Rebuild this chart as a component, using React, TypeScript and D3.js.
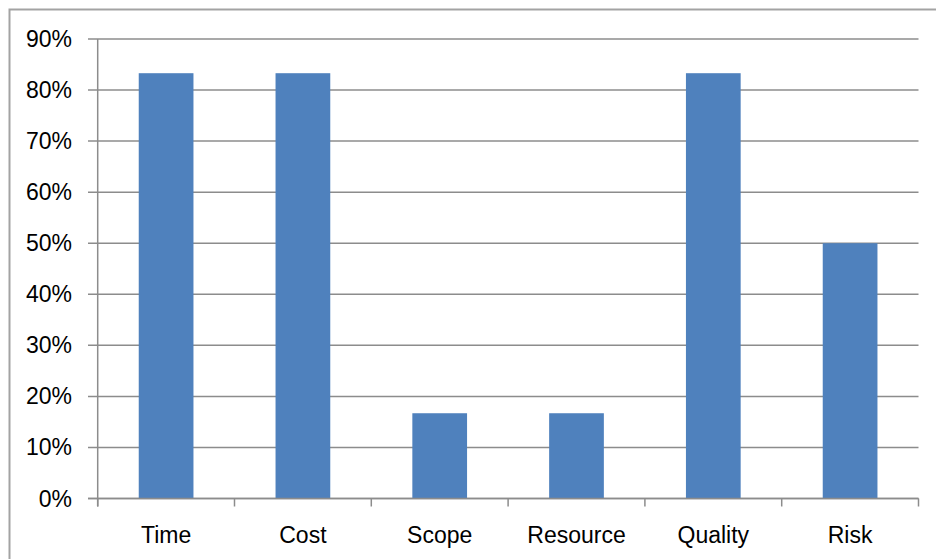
import * as d3 from "d3"

const categories = ["Time", "Cost", "Scope", "Resource", "Quality", "Risk"]
const values = [0.833, 0.833, 0.167, 0.167, 0.833, 0.5]
const yTicks = [0, 0.1, 0.2, 0.3, 0.4, 0.5, 0.6, 0.7, 0.8, 0.9]

const width = 936
const height = 559
const plot = { left: 97.7, right: 918.5, top: 39, bottom: 498.5 }
const font = "'Liberation Sans', Arial, sans-serif"
const gridColor = "#8c8c8c"

export default function App() {
  const x = d3.scaleBand<string>()
    .domain(categories)
    .range([plot.left, plot.right])
    .paddingInner(0.6)
    .paddingOuter(0.3)

  const y = d3.scaleLinear()
    .domain([0, 0.9])
    .range([plot.bottom, plot.top])

  const fmt = d3.format(".0%")
  const step = x.step()
  // category boundaries for the x-axis tick marks
  const boundaries = d3.range(categories.length + 1).map(i => plot.left + i * step)

  return (
    <svg
      width={width}
      height={height}
      style={{ position: "absolute", left: 0, top: 0, background: "#fff" }}
    >
      <rect x={9.5} y={9.5} width={width} height={height} fill="#fff" stroke="#a3a3a3" strokeWidth={2} />

      {yTicks.map(t => (
        <g key={t}>
          <line x1={88} x2={plot.right} y1={y(t)} y2={y(t)} stroke={gridColor} strokeWidth={1.5} />
          <text
            x={72}
            y={y(t) + 8}
            textAnchor="end"
            fontFamily={font}
            fontSize={23}
            fill="#000"
          >
            {fmt(t)}
          </text>
        </g>
      ))}

      {categories.map((c, i) => (
        <rect
          key={c}
          x={x(c)}
          y={y(values[i])}
          width={x.bandwidth()}
          height={plot.bottom - y(values[i])}
          fill="#4f81bd"
        />
      ))}

      <line x1={plot.left} x2={plot.left} y1={plot.top} y2={506.5} stroke={gridColor} strokeWidth={1.5} />
      <line x1={88} x2={plot.right} y1={plot.bottom} y2={plot.bottom} stroke={gridColor} strokeWidth={1.5} />
      {boundaries.map((b, i) => (
        <line key={i} x1={b} x2={b} y1={plot.bottom} y2={506.5} stroke={gridColor} strokeWidth={1.5} />
      ))}

      {categories.map(c => (
        <text
          key={c}
          x={(x(c) ?? 0) + x.bandwidth() / 2}
          y={542.5}
          textAnchor="middle"
          fontFamily={font}
          fontSize={23}
          fill="#000"
        >
          {c}
        </text>
      ))}
    </svg>
  )
}
